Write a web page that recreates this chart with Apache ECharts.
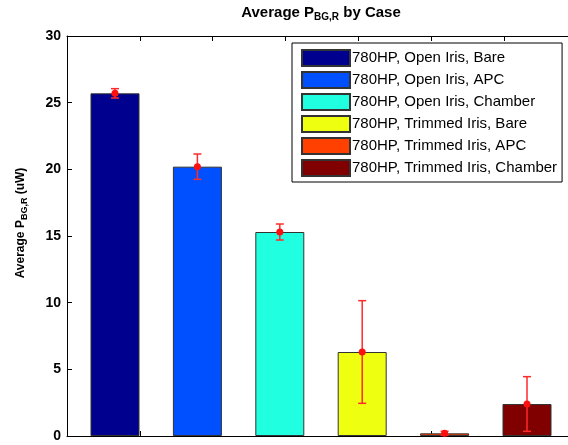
<!DOCTYPE html>
<html>
<head>
<meta charset="utf-8">
<script src="https://cdn.jsdelivr.net/npm/echarts@6/dist/echarts.min.js"></script>
<style>
  html, body { margin: 0; padding: 0; background: #fff; }
  #chart { width: 568px; height: 445px; }
</style>
</head>
<body>
<div id="chart"></div>
<script>
// Cases, in bar order
const caseNames = [
  '780HP, Open Iris, Bare',
  '780HP, Open Iris, APC',
  '780HP, Open Iris, Chamber',
  '780HP, Trimmed Iris, Bare',
  '780HP, Trimmed Iris, APC',
  '780HP, Trimmed Iris, Chamber'
];
// Mean background power per case (uW)
const meanPower = [25.7, 20.2, 15.3, 6.3, 0.2, 2.4];
// Half-width of the error bar per case (uW)
const errPower = [0.35, 0.95, 0.6, 3.85, 0.15, 2.05];
// Bar fill colours (jet palette)
const barColors = ['#00008f', '#0050ff', '#20ffdf', '#efff10', '#ff4000', '#800000'];
// Y axis ticks
const yTicks = { min: 0, max: 30, step: 5 };

const chart = echarts.init(document.getElementById('chart'), null, { renderer: 'canvas' });

const barSeries = caseNames.map((name, i) => ({
  name: name,
  type: 'bar',
  xAxisIndex: 0,
  yAxisIndex: 0,
  barWidth: 49,
  barGap: '-100%',
  data: [[i + 1, meanPower[i]]],
  itemStyle: { color: barColors[i], borderColor: '#333', borderWidth: 1 },
  emphasis: { disabled: true },
  z: 2
}));

const errorSeries = {
  type: 'custom',
  name: 'err',
  xAxisIndex: 0,
  yAxisIndex: 0,
  data: meanPower.map((m, i) => [i + 1, m, errPower[i]]),
  encode: { x: 0, y: 1 },
  z: 5,
  renderItem: function (params, api) {
    const x = api.value(0), m = api.value(1), e = api.value(2);
    const top = api.coord([x, m + e]);
    const bot = api.coord([x, Math.max(m - e, 0)]);
    const mid = api.coord([x, m]);
    const cap = 4;
    const stroke = { stroke: '#ff2a2a', lineWidth: 1.5 };
    return {
      type: 'group',
      children: [
        { type: 'line', shape: { x1: top[0], y1: top[1], x2: bot[0], y2: bot[1] }, style: stroke },
        { type: 'line', shape: { x1: top[0] - cap, y1: top[1], x2: top[0] + cap, y2: top[1] }, style: stroke },
        { type: 'line', shape: { x1: bot[0] - cap, y1: bot[1], x2: bot[0] + cap, y2: bot[1] }, style: stroke },
        { type: 'circle', shape: { cx: mid[0], cy: mid[1], r: 3.5 }, style: { fill: '#ff1010' } }
      ]
    };
  }
};

const hiddenTickAxis = (pos, showLine) => ({
  type: 'value',
  position: pos,
  min: 0,
  max: 6.88,
  interval: 1,
  axisLine: { show: showLine, onZero: false, lineStyle: { color: '#000', width: 1 } },
  axisTick: { show: true, inside: true, length: 5, lineStyle: { color: '#000' } },
  axisLabel: { show: false },
  splitLine: { show: false }
});

chart.setOption({
  animation: false,
  backgroundColor: '#fff',
  title: {
    text: '{b|Average P}{s|BG,R}{b| by Case}',
    left: 316,
    top: 0,
    textAlign: 'center',
    textStyle: {
      rich: {
        b: { fontFamily: 'Liberation Sans, Arial', fontWeight: 'bold', fontSize: 15, color: '#000', lineHeight: 17, verticalAlign: 'top' },
        s: { fontFamily: 'Liberation Sans, Arial', fontWeight: 'bold', fontSize: 10, color: '#000', lineHeight: 14, verticalAlign: 'bottom', padding: [8, 0, 0, 0] }
      }
    }
  },
  legend: {
    data: caseNames,
    orient: 'vertical',
    left: 292,
    top: 43,
    icon: 'rect',
    itemWidth: 48,
    itemHeight: 16,
    itemGap: 4,
    padding: [6, 5, 5, 9],
    borderColor: '#000',
    borderWidth: 1,
    backgroundColor: '#fff',
    textStyle: { fontFamily: 'Liberation Sans, Arial', fontSize: 15, color: '#000', padding: [0, 0, 0, -3] },
    selectedMode: false
  },
  grid: { left: 67, top: 36, width: 501, height: 400, containLabel: false },
  xAxis: [
    {
      type: 'value',
      min: 0.4175,
      max: 6.4975,
      axisLine: { show: true, onZero: false, lineStyle: { color: '#000', width: 1 } },
      axisTick: { show: false },
      axisLabel: { show: false },
      splitLine: { show: false }
    },
    hiddenTickAxis('bottom', false),
    hiddenTickAxis('top', true)
  ],
  yAxis: {
    type: 'value',
    min: yTicks.min,
    max: yTicks.max,
    interval: yTicks.step,
    axisLine: { show: true, lineStyle: { color: '#000', width: 1 } },
    axisTick: { show: true, inside: true, length: 5, lineStyle: { color: '#000' } },
    axisLabel: { fontFamily: 'Liberation Sans, Arial', fontWeight: 'bold', fontSize: 14, color: '#000', margin: 6 },
    splitLine: { show: false },
    name: '{a|Average P}{s|BG,R}{a| (uW)}',
    nameLocation: 'middle',
    nameGap: 38,
    nameRotate: 90,
    nameTextStyle: {
      padding: [0, 0, 0, 26],
      rich: {
        a: { fontFamily: 'Liberation Sans, Arial', fontWeight: 'bold', fontSize: 12, color: '#000', lineHeight: 14, verticalAlign: 'top' },
        s: { fontFamily: 'Liberation Sans, Arial', fontWeight: 'bold', fontSize: 9, color: '#000', lineHeight: 12, verticalAlign: 'bottom', padding: [7, 0, 0, 0] }
      }
    }
  },
  series: barSeries.concat([errorSeries])
});
</script>
</body>
</html>
